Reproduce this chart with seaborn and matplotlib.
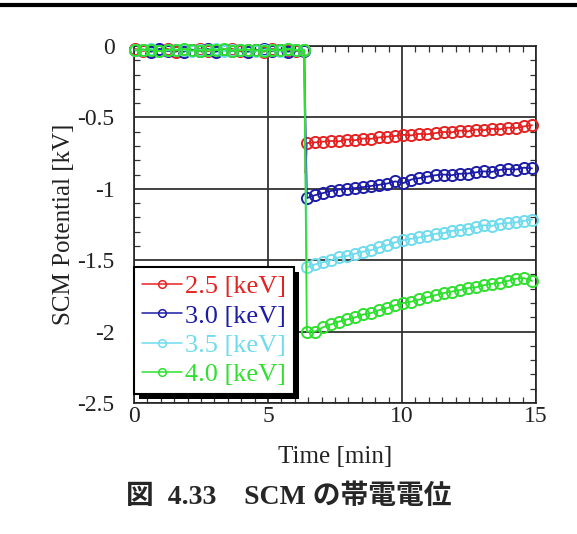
import numpy as np
import pandas as pd
import matplotlib
matplotlib.use("Agg")
import matplotlib.pyplot as plt
import seaborn as sns
from matplotlib.lines import Line2D
from matplotlib.patches import Rectangle
from matplotlib.ticker import MultipleLocator, FixedLocator

# ---------------- data ----------------
labels = ["2.5 [keV]", "3.0 [keV]", "3.5 [keV]", "4.0 [keV]"]
colors = ["#e52222", "#1c1ca6", "#6fdcee", "#2fe02f"]

t_pre = [0.05, 0.35, 0.65, 0.95, 1.25, 1.55, 1.85, 2.15, 2.45, 2.75, 3.05,
         3.35, 3.65, 3.95, 4.25, 4.55, 4.85, 5.15, 5.45, 5.75, 6.05, 6.35]
t_post = [6.45, 6.75, 7.05, 7.35, 7.65, 7.95, 8.25, 8.55, 8.85, 9.15, 9.45,
          9.75, 10.05, 10.35, 10.65, 10.95, 11.25, 11.55, 11.85, 12.15, 12.45,
          12.75, 13.05, 13.35, 13.65, 13.95, 14.25, 14.55, 14.85]

red_pre = [-0.02, -0.035, -0.025, -0.03, -0.02, -0.04, -0.025, -0.03, -0.02, -0.035, -0.03,
           -0.025, -0.02, -0.035, -0.03, -0.025, -0.04, -0.02, -0.03, -0.025, -0.035, -0.03]
blue_pre = [-0.03, -0.025, -0.04, -0.02, -0.035, -0.03, -0.04, -0.025, -0.035, -0.02, -0.04,
            -0.03, -0.035, -0.025, -0.04, -0.03, -0.02, -0.035, -0.025, -0.04, -0.03, -0.035]
cyan_pre = [-0.025, -0.03, -0.02, -0.035, -0.03, -0.025, -0.03, -0.035, -0.025, -0.03, -0.02,
            -0.035, -0.03, -0.025, -0.03, -0.035, -0.025, -0.03, -0.035, -0.02, -0.03, -0.025]
green_pre = [-0.03, -0.025, -0.03, -0.035, -0.025, -0.03, -0.02, -0.03, -0.035, -0.025, -0.03,
             -0.02, -0.035, -0.03, -0.025, -0.03, -0.035, -0.025, -0.03, -0.02, -0.03, -0.03]

# short unmarked transient of the 2.5 keV trace at the switch-on
red_spike_t = [6.4]
red_spike_v = [-0.89]

red_post = [-0.68, -0.675, -0.67, -0.665, -0.668, -0.655, -0.66, -0.648, -0.65, -0.64,
            -0.635, -0.63, -0.622, -0.626, -0.615, -0.618, -0.61, -0.602, -0.605, -0.592,
            -0.598, -0.585, -0.59, -0.58, -0.583, -0.572, -0.575, -0.563, -0.555]
blue_post = [-1.065, -1.045, -1.03, -1.015, -1.005, -1.0, -0.995, -0.988, -0.98, -0.972,
             -0.963, -0.948, -0.96, -0.935, -0.925, -0.915, -0.905, -0.9, -0.905, -0.895,
             -0.893, -0.885, -0.878, -0.882, -0.868, -0.862, -0.865, -0.852, -0.857]
cyan_post = [-1.55, -1.53, -1.515, -1.5, -1.48, -1.47, -1.455, -1.44, -1.43, -1.41,
             -1.395, -1.375, -1.36, -1.35, -1.34, -1.33, -1.315, -1.31, -1.295, -1.29,
             -1.28, -1.27, -1.255, -1.26, -1.245, -1.24, -1.235, -1.225, -1.215]
green_post = [-2.0, -2.0, -1.97, -1.95, -1.93, -1.915, -1.9, -1.88, -1.87, -1.85,
              -1.835, -1.815, -1.8, -1.79, -1.775, -1.76, -1.745, -1.73, -1.72, -1.71,
              -1.695, -1.69, -1.675, -1.665, -1.66, -1.645, -1.63, -1.625, -1.645]

x_ticks = [0, 5, 10, 15]
y_ticks = [0, -0.5, -1, -1.5, -2, -2.5]
y_tick_labels = ["0", "-0.5", "-1", "-1.5", "-2", "-2.5"]

series = [
    (t_pre + red_spike_t + t_post, red_pre + red_spike_v + red_post,
     [i for i in range(len(t_pre) + 1 + len(t_post)) if i != len(t_pre)]),
    (t_pre + t_post, blue_pre + blue_post, None),
    (t_pre + t_post, cyan_pre + cyan_post, None),
    (t_pre + t_post, green_pre + green_post, None),
]

# ---------------- plot ----------------
sns.set_theme(style="white")
plt.rcParams["font.family"] = ["Liberation Serif", "DejaVu Serif"]
plt.rcParams["axes.unicode_minus"] = False

fig = plt.figure(figsize=(5.77, 5.34), dpi=100)
ax = fig.add_axes([134 / 577, 1 - 403 / 534, (536 - 134) / 577, (403 - 46) / 534])

for (tt, vv, mev), lab, col in zip(series, labels, colors):
    df = pd.DataFrame({"Time": tt, "Potential": vv})
    sns.lineplot(data=df, x="Time", y="Potential", ax=ax, color=col, label=lab,
                 estimator=None, sort=False, marker="o", markersize=8,
                 markevery=mev,
                 markerfacecolor="none", markeredgecolor=col, markeredgewidth=1.4,
                 linewidth=1.3, clip_on=False, zorder=3)

ax.set_xlim(0, 15)
ax.set_ylim(-2.5, 0)
ax.xaxis.set_major_locator(FixedLocator(x_ticks))
ax.yaxis.set_major_locator(FixedLocator(y_ticks))
ax.set_yticklabels(y_tick_labels)
ax.set_xticklabels([str(v) for v in x_ticks])
ax.xaxis.set_minor_locator(MultipleLocator(0.5))
ax.yaxis.set_minor_locator(MultipleLocator(0.1))
ax.tick_params(which="major", length=0, labelsize=17, colors="#222222")
ax.tick_params(axis="x", which="major", pad=2)
ax.tick_params(axis="y", which="major", pad=14)
ax.tick_params(which="minor", direction="in", length=4, width=0.9, color="#333333",
               top=True, right=True, bottom=True, left=True)
ax.grid(True, which="major", color="#333333", linewidth=1.3)
for s in ax.spines.values():
    s.set_color("#222222")
    s.set_linewidth(1.2)

ax.set_xlabel("Time [min]", fontsize=18, color="#222222", labelpad=14)
ax.set_ylabel("SCM Potential [kV]", fontsize=18, color="#222222", labelpad=2)

leg = ax.legend(loc="lower left", bbox_to_anchor=(0.0, 0.025), borderaxespad=0,
                fontsize=19, frameon=True, fancybox=False, framealpha=1,
                edgecolor="black", handlelength=1.5, handletextpad=0.15,
                labelspacing=0.22, borderpad=0.3, numpoints=1)
leg.get_frame().set_linewidth(1.5)
leg.set_zorder(6)
for txt, col in zip(leg.get_texts(), colors):
    txt.set_color(col)
for h in leg.legend_handles:
    h.set_markersize(5.5)
    h.set_markeredgewidth(1.1)
    h.set_linewidth(1.1)

fig.canvas.draw()
bb = leg.get_window_extent()
inv = ax.transAxes.inverted()
(x0, y0), (x1, y1) = inv.transform([(bb.x0 + 5, bb.y0 - 5), (bb.x1 + 5, bb.y1 - 5)])
ax.add_patch(Rectangle((x0, y0), x1 - x0, y1 - y0, transform=ax.transAxes,
                       facecolor="black", edgecolor="none", zorder=5.5, clip_on=False))

fig.add_artist(Line2D([0, 1], [1 - 5 / 534, 1 - 5 / 534], transform=fig.transFigure,
                      color="black", linewidth=3))
fig.text(0.5, 1 - 497 / 534, "図  4.33\u3000SCM の帯電電位", ha="center", va="center",
         fontsize=20, fontweight="bold",
         family=["Liberation Serif", "Noto Sans CJK JP"])

fig.savefig("out.png", dpi=100)
